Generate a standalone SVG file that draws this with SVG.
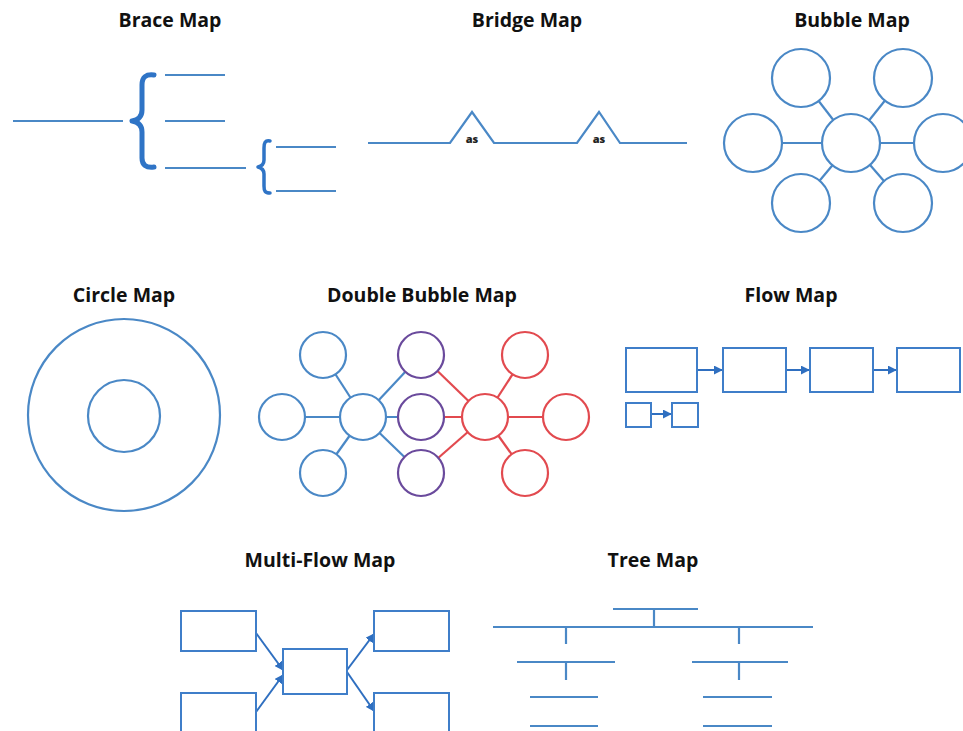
<svg xmlns="http://www.w3.org/2000/svg" width="963" height="731" viewBox="0 0 963 731">
<style>
.title{font-family:"Open Sans","Liberation Sans",sans-serif;font-weight:700;font-size:19.5px;fill:#111;text-anchor:middle}
.as{font-family:"Open Sans","Liberation Sans",sans-serif;font-weight:800;font-size:11px;fill:#222;text-anchor:middle}
.ln{stroke:#4a88c6;stroke-width:2.2;fill:none;stroke-linecap:butt}
.brace{stroke:#2f74c6;fill:none;stroke-linecap:round;stroke-linejoin:round}
.c{fill:#fff;stroke:#4a88c6;stroke-width:2.2}
.cp{fill:#fff;stroke:#6a4a9c;stroke-width:2.2}
.cr{fill:#fff;stroke:#e24a4f;stroke-width:2.2}
.lb{stroke:#4a88c6;stroke-width:2.2}
.lr{stroke:#e24a4f;stroke-width:2.2}
.box{fill:#fff;stroke:#3f7ec9;stroke-width:2}
.arr{stroke:#2f6fc0;stroke-width:2;fill:none}
</style>
<defs>
<marker id="ah" viewBox="0 0 10 10" refX="9" refY="5" markerWidth="4.5" markerHeight="4.5" orient="auto" markerUnits="strokeWidth">
<path d="M0,0 L10,5 L0,10 z" fill="#2f6fc0"/>
</marker>
</defs>

<!-- Titles -->
<g id="titles">
<text class="title" x="170" y="27">Brace Map</text>
<text class="title" x="527" y="27">Bridge Map</text>
<text class="title" x="852" y="27">Bubble Map</text>
<text class="title" x="124" y="302">Circle Map</text>
<text class="title" x="422" y="302">Double Bubble Map</text>
<text class="title" x="791" y="302">Flow Map</text>
<text class="title" x="320" y="567">Multi-Flow Map</text>
<text class="title" x="653" y="567">Tree Map</text>
</g>

<!-- Brace Map -->
<g id="brace-map">
<line class="ln" x1="13" y1="121" x2="123" y2="121"/>
<path class="brace" stroke-width="5" d="M154,75 C146,74 142,77 142,85 L142,110 C142,117 138,120 132,121 C138,122 142,125 142,132 L142,158 C142,165 146,168 154,167"/>
<line class="ln" x1="165" y1="75" x2="225" y2="75"/>
<line class="ln" x1="165" y1="121" x2="225" y2="121"/>
<line class="ln" x1="165" y1="168" x2="246" y2="168"/>
<path class="brace" stroke-width="3.5" d="M270,141 C265,140 264,143 264,148 L264,160 C264,164 262,166 258,167 C262,168 264,170 264,174 L264,186 C264,191 265,193 270,193"/>
<line class="ln" x1="276" y1="147" x2="336" y2="147"/>
<line class="ln" x1="276" y1="191" x2="336" y2="191"/>
</g>

<!-- Bridge Map -->
<g id="bridge-map">
<path class="ln" stroke="#5a8fc4" d="M368,143 L450,143 L472,112 L494,143 L577,143 L599,112 L620,143 L687,143"/>
<text class="as" x="472" y="143">as</text>
<text class="as" x="599" y="143">as</text>
</g>

<!-- Connectors -->
<g id="connectors">
<!-- bubble map -->
<line class="lb" x1="851" y1="143" x2="801" y2="78"/>
<line class="lb" x1="851" y1="143" x2="903" y2="78"/>
<line class="lb" x1="851" y1="143" x2="753" y2="143"/>
<line class="lb" x1="851" y1="143" x2="943" y2="143"/>
<line class="lb" x1="851" y1="143" x2="801" y2="203"/>
<line class="lb" x1="851" y1="143" x2="903" y2="203"/>
<!-- double bubble -->
<line class="lb" x1="363" y1="417" x2="323" y2="355"/>
<line class="lb" x1="363" y1="417" x2="282" y2="417"/>
<line class="lb" x1="363" y1="417" x2="323" y2="473"/>
<line class="lb" x1="363" y1="417" x2="421" y2="355"/>
<line class="lb" x1="363" y1="417" x2="421" y2="417"/>
<line class="lb" x1="363" y1="417" x2="421" y2="473"/>
<line class="lr" x1="485" y1="417" x2="421" y2="355"/>
<line class="lr" x1="485" y1="417" x2="421" y2="417"/>
<line class="lr" x1="485" y1="417" x2="421" y2="473"/>
<line class="lr" x1="485" y1="417" x2="525" y2="355"/>
<line class="lr" x1="485" y1="417" x2="566" y2="417"/>
<line class="lr" x1="485" y1="417" x2="525" y2="473"/>
<!-- flow map -->
<line class="arr" x1="697" y1="370" x2="722" y2="370" marker-end="url(#ah)"/>
<line class="arr" x1="786" y1="370" x2="809" y2="370" marker-end="url(#ah)"/>
<line class="arr" x1="873" y1="370" x2="896" y2="370" marker-end="url(#ah)"/>
<line class="arr" x1="651" y1="414" x2="671" y2="414" marker-end="url(#ah)"/>
<!-- multi-flow -->
<line class="arr" x1="256" y1="633" x2="283" y2="670" marker-end="url(#ah)"/>
<line class="arr" x1="256" y1="712" x2="283" y2="675" marker-end="url(#ah)"/>
<line class="arr" x1="347" y1="670" x2="374" y2="634" marker-end="url(#ah)"/>
<line class="arr" x1="347" y1="672" x2="374" y2="711" marker-end="url(#ah)"/>
</g>

<!-- Bubble Map nodes -->
<g id="bubble-map">
<circle class="c" cx="851" cy="143" r="29"/>
<circle class="c" cx="801" cy="78" r="29"/>
<circle class="c" cx="903" cy="78" r="29"/>
<circle class="c" cx="753" cy="143" r="29"/>
<circle class="c" cx="943" cy="143" r="29"/>
<circle class="c" cx="801" cy="203" r="29"/>
<circle class="c" cx="903" cy="203" r="29"/>
</g>

<!-- Circle Map -->
<g id="circle-map">
<circle cx="124" cy="415" r="96" fill="none" stroke="#4a88c6" stroke-width="2.2"/>
<circle cx="124" cy="416" r="36" fill="none" stroke="#4a88c6" stroke-width="2.2"/>
</g>

<!-- Double Bubble Map nodes -->
<g id="double-bubble-map">
<circle class="c" cx="363" cy="417" r="23"/>
<circle class="c" cx="323" cy="355" r="23"/>
<circle class="c" cx="282" cy="417" r="23"/>
<circle class="c" cx="323" cy="473" r="23"/>
<circle class="cp" cx="421" cy="355" r="23"/>
<circle class="cp" cx="421" cy="417" r="23"/>
<circle class="cp" cx="421" cy="473" r="23"/>
<circle class="cr" cx="485" cy="417" r="23"/>
<circle class="cr" cx="525" cy="355" r="23"/>
<circle class="cr" cx="566" cy="417" r="23"/>
<circle class="cr" cx="525" cy="473" r="23"/>
</g>

<!-- Flow Map nodes -->
<g id="flow-map">
<rect class="box" x="626" y="348" width="71" height="44"/>
<rect class="box" x="723" y="348" width="63" height="44"/>
<rect class="box" x="810" y="348" width="63" height="44"/>
<rect class="box" x="897" y="348" width="63" height="44"/>
<rect class="box" x="626" y="403" width="25" height="24"/>
<rect class="box" x="672" y="403" width="26" height="24"/>
</g>

<!-- Multi-Flow Map nodes -->
<g id="multi-flow-map">
<rect class="box" x="181" y="611" width="75" height="40"/>
<rect class="box" x="181" y="693" width="75" height="45"/>
<rect class="box" x="283" y="649" width="64" height="45"/>
<rect class="box" x="374" y="611" width="75" height="40"/>
<rect class="box" x="374" y="693" width="75" height="45"/>
</g>

<!-- Tree Map -->
<g id="tree-map">
<line class="ln" x1="613" y1="609" x2="698" y2="609"/>
<line class="ln" x1="654" y1="609" x2="654" y2="627"/>
<line class="ln" x1="493" y1="627" x2="813" y2="627"/>
<line class="ln" x1="566" y1="627" x2="566" y2="644"/>
<line class="ln" x1="739" y1="627" x2="739" y2="644"/>
<line class="ln" x1="517" y1="662" x2="615" y2="662"/>
<line class="ln" x1="692" y1="662" x2="788" y2="662"/>
<line class="ln" x1="566" y1="662" x2="566" y2="680"/>
<line class="ln" x1="739" y1="662" x2="739" y2="680"/>
<line class="ln" x1="530" y1="697" x2="598" y2="697"/>
<line class="ln" x1="703" y1="697" x2="772" y2="697"/>
<line class="ln" x1="530" y1="726" x2="598" y2="726"/>
<line class="ln" x1="703" y1="726" x2="772" y2="726"/>
</g>
</svg>
